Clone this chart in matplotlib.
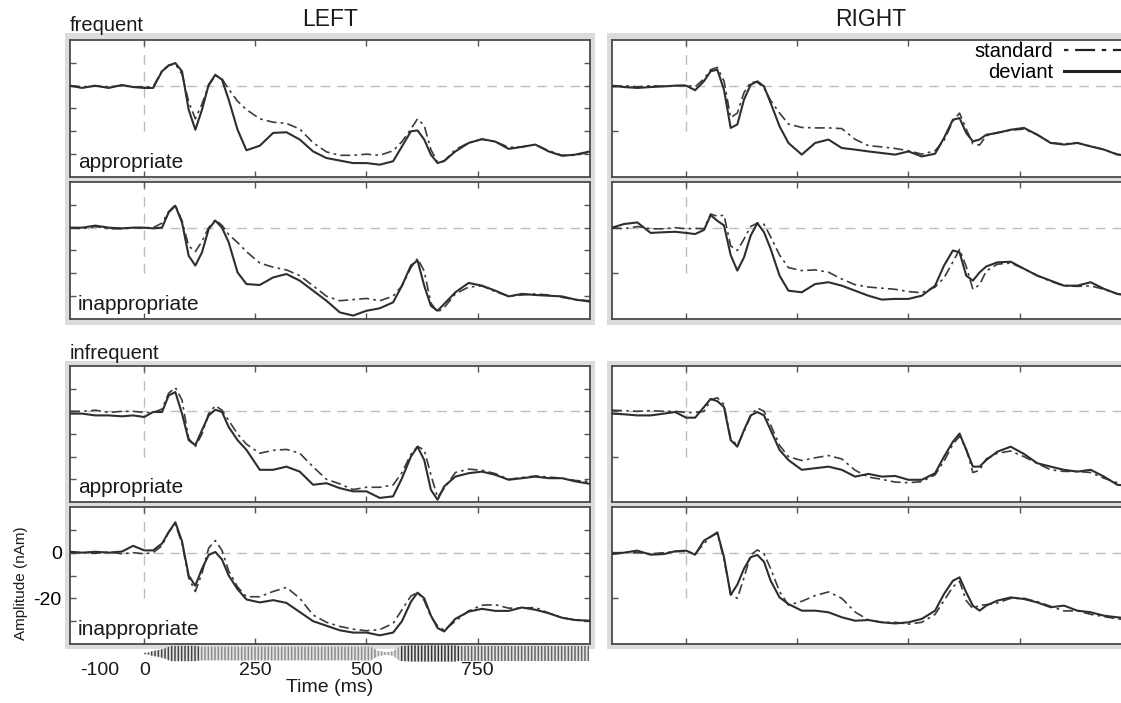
import matplotlib
matplotlib.use('Agg')
import numpy as np
import matplotlib.pyplot as plt
from matplotlib.lines import Line2D
from matplotlib.patches import Rectangle

plt.rcParams['font.family'] = ['Liberation Sans', 'DejaVu Sans']
plt.rcParams['axes.unicode_minus'] = False
plt.rcParams['hatch.linewidth'] = 1.1

# time grid (ms) shared by all source waveforms
t_ms = [-167, -140, -110, -80, -50, -25, 0, 20, 40, 55, 70, 85, 100, 115, 130, 145,
        160, 175, 190, 210, 230, 260, 290, 320, 350, 380, 410, 440, 470, 500, 530,
        560, 580, 600, 615, 630, 645, 660, 675, 700, 730, 760, 790, 820, 850, 880,
        910, 940, 970, 1003]

# amplitudes (nAm)
left_freq_app_std = [0, -0.5, -0.2, -0.5, 0, -0.5, -0.5, -0.5, 6.5, 9, 9.5, 5, -7, -14.5, -8, 0,
                     4.4, 3, -1.5, -6.8, -10.5, -14.5, -16, -16.5, -19, -25, -29, -30.5, -30.5, -30, -30.5,
                     -28.5, -24.5, -19, -14.5, -17.5, -28, -33.5, -33, -28, -25, -23.5, -24.5, -27, -26.8, -25.8,
                     -28.5, -30.5, -30.5, -29]
left_freq_app_dev = [0, -1, 0, -1, 0.3, -0.6, -1, -1, 6.3, 8.8, 9.9, 6.3, -10.5, -19.3, -10.5, 0.4,
                     4.8, 2.6, -6.1, -19.3, -28.3, -26.3, -20.7, -20.4, -23.6, -28.8, -31.7, -32.8, -33.9, -33.9, -34.6,
                     -33.1, -26.6, -20, -19.6, -23.6, -30.2, -33.9, -33, -28.8, -25.1, -23.4, -24.5, -27.7, -26.8, -25.8,
                     -28.8, -30.7, -30.2, -28.8]
left_freq_inapp_std = [0, -0.5, 0.5, -0.5, -0.5, 0, 0, 0, 2, 7, 10, 3, -8, -10.5, -6, 0,
                       3.5, 1, -3, -6.5, -10.5, -15.5, -17.3, -18.5, -21, -25.5, -30, -32, -31.5, -31, -32,
                       -30, -25.5, -17.5, -13.5, -19, -33, -37, -35, -29, -26, -25.5, -28, -30, -29.5, -29,
                       -29.5, -30.5, -31.5, -32]
left_freq_inapp_dev = [0, 0, 0.9, 0, -0.3, 0, 0, -0.3, 0, 6.7, 9.6, 2.3, -12.3, -16.6, -10.8, -0.6,
                       3.1, 0, -6.4, -19.6, -24.7, -25.1, -21.8, -20.3, -23.2, -27.6, -32, -37.1, -38.5, -36.4, -35.3,
                       -32.7, -25.4, -16.6, -14.4, -25.4, -34.2, -36.4, -33.4, -28.3, -24.2, -25.4, -27.6, -30.1, -29, -29.5,
                       -29.8, -30.1, -31.5, -32.4]
left_infreq_app_std = [0, 0, 0.5, -0.5, 0, 0, -0.5, -0.5, 1, 8, 10.5, 5, -12, -15.5, -10, -1,
                       2.5, 0.5, -4, -10, -14.5, -18.5, -17.2, -16.8, -18.5, -24.5, -30, -32, -34.5, -33.5, -33.5,
                       -32.5, -27, -19, -15.5, -17, -28, -38, -34, -27, -25.5, -26, -27.5, -30, -29.2, -28.5,
                       -29, -29.5, -30.5, -31]
left_infreq_app_dev = [-1, -1, -1.8, -1.8, -2.2, -1.8, -2.5, -0.3, -0.3, 7, 8.5, -1, -12.7, -14.9, -8.3, -1.8,
                       0.7, -0.3, -6.9, -12.7, -17, -25.8, -25.8, -24.4, -26.6, -32.4, -31.7, -33.9, -35.3, -35.3, -38.2,
                       -37.5, -29.5, -20, -15.6, -21.5, -34.6, -39, -33.1, -28.8, -27.3, -26.6, -28, -30.2, -29.5, -28.8,
                       -29.5, -29.5, -30.9, -32]
left_infreq_inapp_std = [0, 0, -0.3, 0.3, -0.5, 0, -0.5, 0, 3, 9, 12.5, 4, -11, -17, -9, 2,
                         5.3, 1, -8, -15, -19.3, -19.3, -17, -15.2, -20, -27.3, -30.5, -32.3, -33.5, -34.2, -33.7,
                         -31, -25, -19, -17.4, -21, -28, -32, -34, -30, -25.5, -23, -22.8, -24.3, -24.3, -24,
                         -26.5, -28.5, -29.5, -30]
left_infreq_inapp_dev = [0.4, 0, 0.4, 0, 0.5, 3, 1, 1, 4, 9, 13.3, 5, -10, -14.5, -7, -1,
                         0.3, -3, -10, -16, -20.5, -21.8, -20.8, -22, -26, -30, -32, -34, -35, -35, -36.2,
                         -35, -30, -21.5, -17.5, -20, -27.5, -33, -34.5, -29, -25.8, -24.6, -25.5, -25.5, -24, -25,
                         -26.5, -28.5, -29.5, -29.8]

right_freq_app_std = [-0.5, 0, -0.5, 0, -0.3, 0, 0.2, -0.5, 3, 7, 8, 2, -14, -12, -3, 1.5,
                      1.5, -1, -6.5, -12, -16.8, -18.3, -18.5, -18.5, -18.8, -23.5, -26.3, -26.8, -27.5, -28.5, -30,
                      -28.5, -24, -15.5, -12, -19, -25.5, -26, -22, -20.5, -19.5, -19, -21.5, -25, -25.5, -25,
                      -26.5, -28, -30, -31]
right_freq_app_dev = [0, -0.6, -1, -0.6, -0.3, 0, 0, -2, 2, 6.3, 7, -1.8, -18.5, -17, -6.1, 0.4,
                      1.9, -0.3, -7.6, -17.8, -25.1, -30.2, -25.1, -23.6, -27.3, -28, -28.8, -29.5, -30.2, -28.8, -31,
                      -29.8, -22.9, -14.9, -14.2, -20.7, -24.4, -23.6, -21.5, -20.7, -19.3, -18.5, -21.5, -25.1, -25.8, -25.1,
                      -26.6, -28, -30.2, -31]
right_freq_inapp_std = [0, -0.5, 0.5, -0.5, -0.5, 0, -0.5, -0.3, -0.5, 6, 5, 5.5, -8, -10, -5, 0.5,
                        2, 1.5, -4, -12, -17.5, -18.8, -18.5, -19.5, -22.5, -25, -26, -26.5, -27, -28, -28.5,
                        -26, -22, -15, -9.5, -17, -27, -25, -19, -16, -15.5, -18, -21, -23.5, -25.5, -25.7,
                        -25.5, -27, -29, -30]
right_freq_inapp_dev = [0, 1.6, 2.3, -2.3, -2, -1.8, -2.3, -2.8, -1, 5.5, 3, 1, -12, -18.8, -13, -3.5,
                        2, -2, -9.3, -21, -27.6, -28.3, -24.7, -23.9, -25.4, -27.6, -29.8, -31.5, -31.2, -31.2, -29.8,
                        -25.4, -16.6, -10, -10.8, -21, -23.2, -19.6, -17, -15.2, -14.9, -18, -21, -23.2, -25.4, -25.4,
                        -23.9, -26.8, -29, -30]
right_infreq_app_std = [0.5, 0.3, 0, 0.3, 0, 0, -0.5, -0.5, 0, 5, 6, 3, -12, -15, -9, -2,
                        1.5, 0, -6, -15, -20, -21.7, -20.5, -19.5, -21, -26, -29, -30, -31.2, -31.5, -31,
                        -28, -22, -14.5, -11, -16.5, -27, -26, -21, -18.5, -17.5, -20, -23, -25.8, -26.5, -26.5,
                        -27, -29.5, -31.5, -32]
right_infreq_app_dev = [-1, -1.3, -1.8, -1.8, -1, -0.3, -2.8, -2.8, 1.9, 5.5, 4.5, 1.9, -12.7, -15.6, -8.3, -1.8,
                        -0.3, -1.8, -8.3, -17, -21.5, -25.8, -25.1, -24.4, -25.8, -28.8, -27.6, -28.8, -28.5, -30.2, -30.2,
                        -27.3, -20, -13.4, -9.8, -17, -24.4, -24.4, -21.5, -17.8, -15.6, -18.8, -22.9, -24.4, -25.8, -26.6,
                        -25.8, -28.8, -32.4, -33]
right_infreq_inapp_std = [0, 0, 0, -0.5, 0, 0.5, 0.5, -0.5, 4, 7, 8.5, -3, -18, -20, -11, -1,
                          1.2, -0.5, -7, -17, -23, -21.3, -18.8, -17.2, -20, -26, -29.5, -30.5, -30.5, -31.3, -30.5,
                          -27, -21, -15, -12.5, -21, -24.5, -23, -22.8, -22, -20, -20, -21.5, -23.5, -25.5, -25.5,
                          -27, -28, -29, -29.5]
right_infreq_inapp_dev = [-0.6, 0, 0.9, -0.9, -0.6, 0.6, 0.9, -0.9, 5.3, 7, 8.9, -2, -18.5, -14, -7, -2,
                          -1, -4, -12.3, -19.6, -22.5, -25.4, -25.4, -26.1, -28.3, -29.8, -29.5, -30.5, -31, -30.5, -29,
                          -25.4, -18.1, -12.3, -10.8, -17.4, -23.2, -25.4, -23.2, -21, -19.6, -20.3, -21.8, -23.9, -23.2, -25.4,
                          -26.1, -27.6, -28.3, -29]

# stimulus envelope shown under the time axis
stim_t = [0, 8, 15, 30, 45, 60, 115, 125, 510, 525, 545, 560, 575, 600, 700, 710, 1000]
stim_amp = [0.1, 0.1, 0.25, 0.4, 0.6, 0.95, 0.95, 0.85, 0.85, 0.35, 0.15, 0.3, 0.9, 1.0, 1.0, 0.9, 0.9]
stim_shades = [(0, 125, '#444444'), (125, 525, '#8c8c8c'), (525, 575, '#9a9a9a'),
               (575, 710, '#333333'), (710, 1000, '#666666')]

row_labels = ['appropriate', 'inappropriate', 'appropriate', 'inappropriate']
left_std = [left_freq_app_std, left_freq_inapp_std, left_infreq_app_std, left_infreq_inapp_std]
left_dev = [left_freq_app_dev, left_freq_inapp_dev, left_infreq_app_dev, left_infreq_inapp_dev]
right_std = [right_freq_app_std, right_freq_inapp_std, right_infreq_app_std, right_infreq_inapp_std]
right_dev = [right_freq_app_dev, right_freq_inapp_dev, right_infreq_app_dev, right_infreq_inapp_dev]

x_ticks = [0, 250, 500, 750]
time_ticks = [-100, 0, 250, 500, 750]
XLIM = (-167, 1003)
YLIM = (-40, 20)

W, H = 1121, 703
fig = plt.figure(figsize=(W / 100, H / 100), dpi=100)


def px(x0, y0, x1, y1):
    """pixel box (top-left origin) -> figure fraction rect"""
    return [x0 / W, 1 - y1 / H, (x1 - x0) / W, (y1 - y0) / H]


# light grey frames behind each block of panels
for box in [(65, 33, 595, 325), (607, 33, 1140, 325), (65, 361, 595, 649), (607, 361, 1140, 649)]:
    r = Rectangle((box[0] / W, 1 - box[3] / H), (box[2] - box[0]) / W, (box[3] - box[1]) / H,
                  transform=fig.transFigure, facecolor='#dcdcdc', edgecolor='none', zorder=-5)
    fig.patches.append(r)

cols = {'left': (70, 590), 'right': (612, 1132)}
rows = [(40, 177), (182, 319), (366, 502), (507, 644)]

STD_STYLE = dict(color='#3c3c3c', lw=1.2, dashes=(6, 2.5, 1.6, 2.5))
DEV_STYLE = dict(color='#2e2e2e', lw=1.5)
TXT = '#1a1a1a'

for side, stds, devs in [('left', left_std, left_dev), ('right', right_std, right_dev)]:
    x0, x1 = cols[side]
    for i, (y0, y1) in enumerate(rows):
        ax = fig.add_axes(px(x0, y0, x1, y1))
        ax.set_xlim(*XLIM)
        ax.set_ylim(*YLIM)
        ax.axhline(0, color='#bdbdbd', lw=1.0, dashes=(7, 5), zorder=1)
        ax.axvline(0, ymin=(-20 - YLIM[0]) / (YLIM[1] - YLIM[0]), ymax=1,
                   color='#bdbdbd', lw=1.0, dashes=(7, 5), zorder=1)
        ax.plot(t_ms, stds[i], zorder=3, **STD_STYLE)
        ax.plot(t_ms, devs[i], zorder=4, **DEV_STYLE)
        for s in ax.spines.values():
            s.set_color('#4a4a4a')
            s.set_linewidth(1.3)
        ax.set_xticks(x_ticks)
        ax.tick_params(axis='x', direction='in', top=True, bottom=True, labelbottom=False,
                       length=4, width=1, color='#555555')
        if side == 'left':
            ax.set_yticks([-30, -20, -10, 0, 10])
            ax.tick_params(axis='y', direction='in', left=True, right=True, length=4,
                           width=1, color='#555555', labelsize=14, pad=6)
            if i == 3:
                ax.set_yticklabels(['', '-20', '', '0', ''])
            else:
                ax.set_yticklabels([])
            ax.text(0.015, 0.065, row_labels[i], transform=ax.transAxes,
                    fontsize=15, va='baseline', color=TXT)
        else:
            ax.set_yticks([-20, 0])
            ax.set_yticklabels([])
            ax.tick_params(axis='y', direction='in', left=True, right=False, length=4,
                           width=1, color='#555555')

# stimulus waveform strip + time axis labels
sax = fig.add_axes(px(70, 645, 590, 662))
sax.patch.set_alpha(0)
st = np.array(stim_t)
sa = np.array(stim_amp)
for a, b, c in stim_shades:
    m = (st >= a) & (st <= b)
    sax.fill_between(st, -sa, sa, where=m, facecolor='#e4e4e4', edgecolor=c,
                     hatch='|||||', linewidth=0)
sax.set_xlim(*XLIM)
sax.set_ylim(-1.05, 1.05)
for s in sax.spines.values():
    s.set_visible(False)
sax.set_yticks([])
sax.set_xticks(time_ticks)
sax.set_xticklabels([str(v) for v in time_ticks])
sax.tick_params(axis='x', length=0, pad=0, labelsize=14, labelcolor=TXT)
sax.set_xlabel('Time (ms)', fontsize=14, labelpad=0, color=TXT)

# headings and labels
fig.text(70 / W, 1 - 31 / H, 'frequent', fontsize=14.5, va='baseline', color=TXT)
fig.text(70 / W, 1 - 359 / H, 'infrequent', fontsize=14.5, va='baseline', color=TXT)
fig.text(330 / W, 1 - 20 / H, 'LEFT', fontsize=16.5, ha='center', va='center', color=TXT)
fig.text(871 / W, 1 - 20 / H, 'RIGHT', fontsize=16.5, ha='center', va='center', color=TXT)
fig.text(21 / W, 1 - 583 / H, 'Amplitude (nAm)', fontsize=11, rotation=90,
         ha='center', va='center', color=TXT)

handles = [Line2D([], [], color='#222222', lw=1.6, dashes=(2, 3, 9, 3)),
           Line2D([], [], color='#222222', lw=2.2)]
fig.legend(handles, ['standard', 'deviant'], loc='upper right',
           bbox_to_anchor=(1136 / W, 1 - 42 / H), frameon=False, markerfirst=False,
           handlelength=3.6, handletextpad=0.5, labelspacing=0.1, fontsize=14.5,
           borderaxespad=0, borderpad=0)

fig.savefig('out.png', dpi=100)
